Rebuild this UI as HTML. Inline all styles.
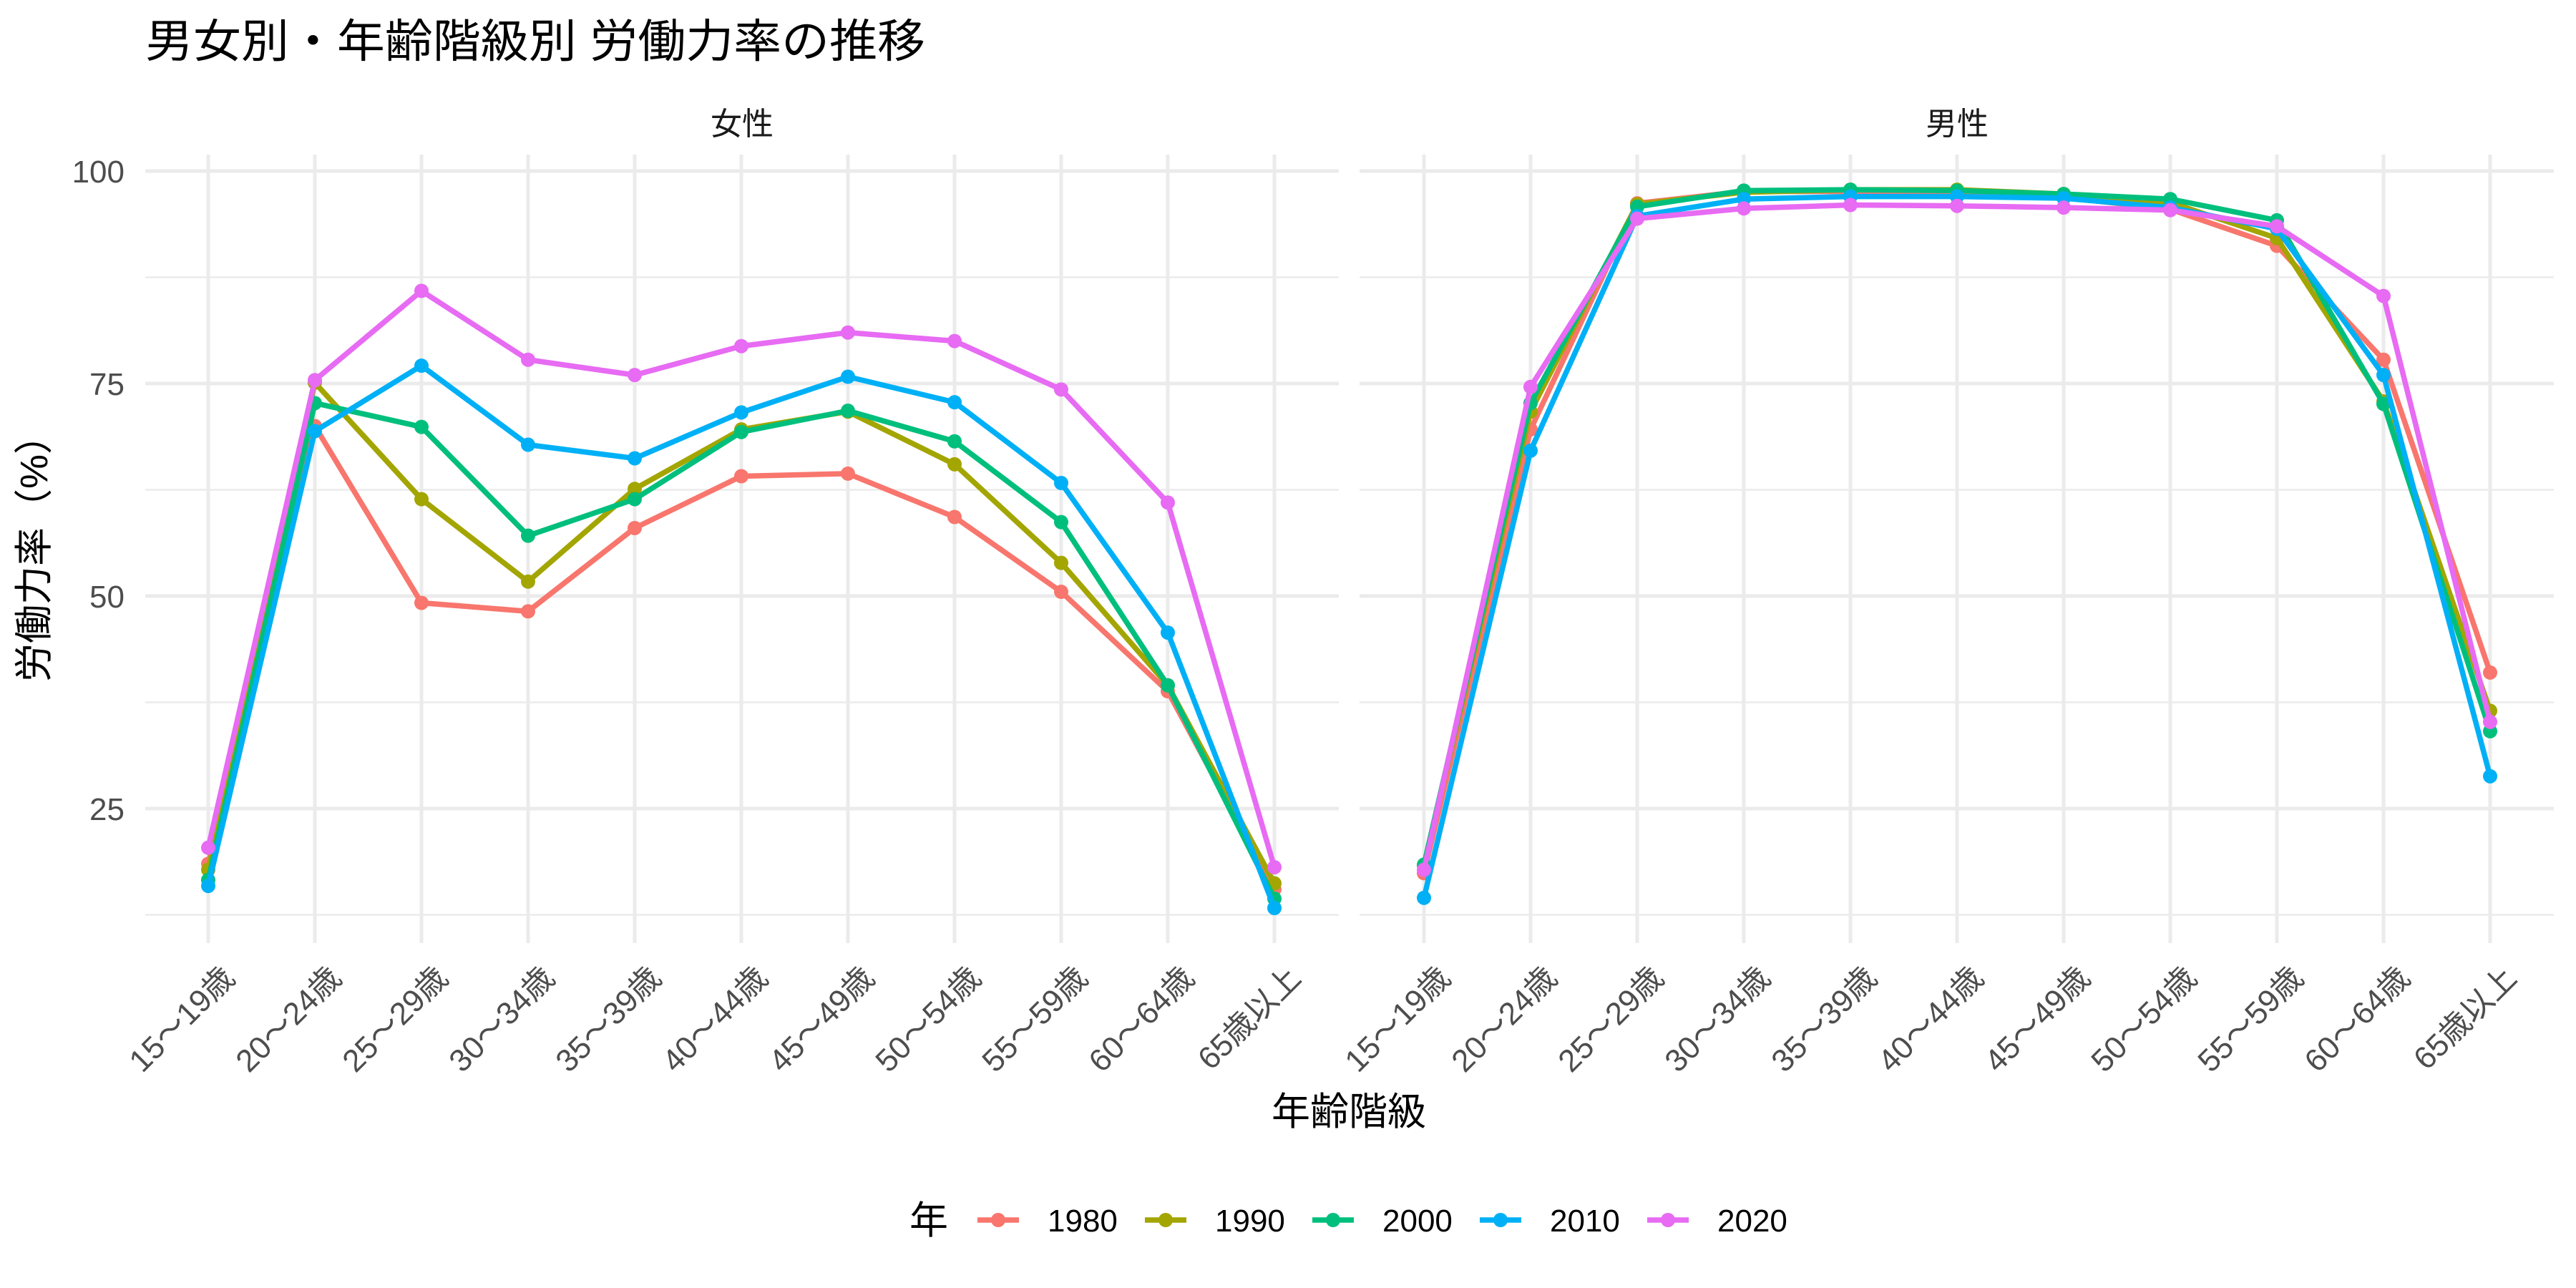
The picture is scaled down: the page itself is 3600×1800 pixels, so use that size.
<!DOCTYPE html>
<html><head><meta charset="utf-8"><style>body{margin:0;background:#fff}svg{display:block}</style></head>
<body>
<svg id="s" width="3600" height="1800" xmlns="http://www.w3.org/2000/svg" font-family="Liberation Sans, Noto Sans CJK JP, sans-serif">
<rect width="3600" height="1800" fill="#fff"/>
<text x="203" y="80" font-size="64" fill="#000" textLength="1090" lengthAdjust="spacingAndGlyphs">男女別・年齢階級別 労働力率の推移</text>
<text x="1037" y="188" font-size="44" fill="#1a1a1a" text-anchor="middle">女性</text>
<text x="2735" y="188" font-size="44" fill="#1a1a1a" text-anchor="middle">男性</text>
<g id="grid"></g>
<g id="series"></g>
<g font-size="44" fill="#4d4d4d" text-anchor="end">
<text x="174" y="255">100</text><text x="174" y="552">75</text><text x="174" y="849">50</text><text x="174" y="1146">25</text>
</g>
<g id="xl" font-size="44" fill="#4d4d4d"></g>
<text x="1885" y="1572" font-size="54" fill="#000" text-anchor="middle">年齢階級</text>
<text transform="translate(66,767) rotate(-90)" font-size="54" fill="#000" text-anchor="middle">労働力率（%）</text>
<g id="leg"></g>
</svg>
<script>
const NS="http://www.w3.org/2000/svg";
function el(p,t,a,txt){const e=document.createElementNS(NS,t);for(const k in a)e.setAttribute(k,a[k]);if(txt)e.textContent=txt;p.appendChild(e);return e;}
const Y=v=>239+(100-v)*11.88;
const panels=[{x0:203,x1:1871,t0:291},{x0:1900,x1:3569,t0:1990}];
const sp=149;
const g=document.getElementById('grid');
const labs=["15～19歳","20～24歳","25～29歳","30～34歳","35～39歳","40～44歳","45～49歳","50～54歳","55～59歳","60～64歳","65歳以上"];
const xl=document.getElementById('xl');
panels.forEach(p=>{
 [12.5,37.5,62.5,87.5].forEach(v=>el(g,'line',{x1:p.x0,x2:p.x1,y1:Y(v),y2:Y(v),stroke:'#ebebeb','stroke-width':2.5}));
 [25,50,75,100].forEach(v=>el(g,'line',{x1:p.x0,x2:p.x1,y1:Y(v),y2:Y(v),stroke:'#ebebeb','stroke-width':5}));
 for(let i=0;i<11;i++){const x=p.t0+i*sp;el(g,'line',{x1:x,x2:x,y1:216,y2:1318,stroke:'#ebebeb','stroke-width':5});
  el(xl,'text',{transform:`translate(${x+16},1346) rotate(-45)`,'text-anchor':'end',dy:'0.75em'},labs[i]);}
});
const cols={1980:'#F8766D',1990:'#A3A500',2000:'#00BF7D',2010:'#00B0F6',2020:'#E76BF3'};
const F={1980:[18.5,70.0,49.2,48.2,58.0,64.1,64.4,59.3,50.5,38.8,15.5],
1990:[17.8,75.1,61.4,51.7,62.6,69.6,71.7,65.5,53.9,39.5,16.2],
2000:[16.6,72.7,69.9,57.1,61.4,69.3,71.8,68.2,58.7,39.5,14.4],
2010:[15.9,69.4,77.1,67.8,66.2,71.6,75.8,72.8,63.3,45.7,13.3],
2020:[20.4,75.4,85.9,77.8,76.0,79.4,81.0,80.0,74.3,61.0,18.1]};
const M={1980:[17.4,69.6,96.2,97.6,97.6,97.3,96.9,95.5,91.2,77.8,41.0],
1990:[18.3,71.7,96.1,97.5,97.8,97.8,97.3,96.3,92.1,72.9,36.5],
2000:[18.4,72.7,95.8,97.7,97.8,97.7,97.3,96.7,94.2,72.6,34.1],
2010:[14.5,67.1,94.7,96.7,97.0,97.0,96.8,95.7,93.2,76.0,28.8],
2020:[17.8,74.6,94.4,95.6,96.0,95.9,95.7,95.4,93.5,85.3,35.2]};
const s=document.getElementById('series');
[F,M].forEach((D,pi)=>{const p=panels[pi];
 for(const yr in D){const pts=D[yr].map((v,i)=>[p.t0+i*sp,Y(v)]);
  el(s,'polyline',{points:pts.map(a=>a.join(',')).join(' '),fill:'none',stroke:cols[yr],'stroke-width':7.5,'stroke-linejoin':'round'});
  pts.forEach(a=>el(s,'circle',{cx:a[0],cy:a[1],r:10,fill:cols[yr]}));}
});
const L=document.getElementById('leg');
el(L,'text',{x:1271,y:1724,'font-size':54,fill:'#000'},'年');
Object.keys(cols).forEach((yr,i)=>{const x=1366+i*234;
 el(L,'line',{x1:x,x2:x+58,y1:1705,y2:1705,stroke:cols[yr],'stroke-width':7.5});
 el(L,'circle',{cx:x+29,cy:1705,r:10,fill:cols[yr]});
 el(L,'text',{x:x+98,y:1721,'font-size':44,fill:'#000'},yr);});
</script>
</body></html>
